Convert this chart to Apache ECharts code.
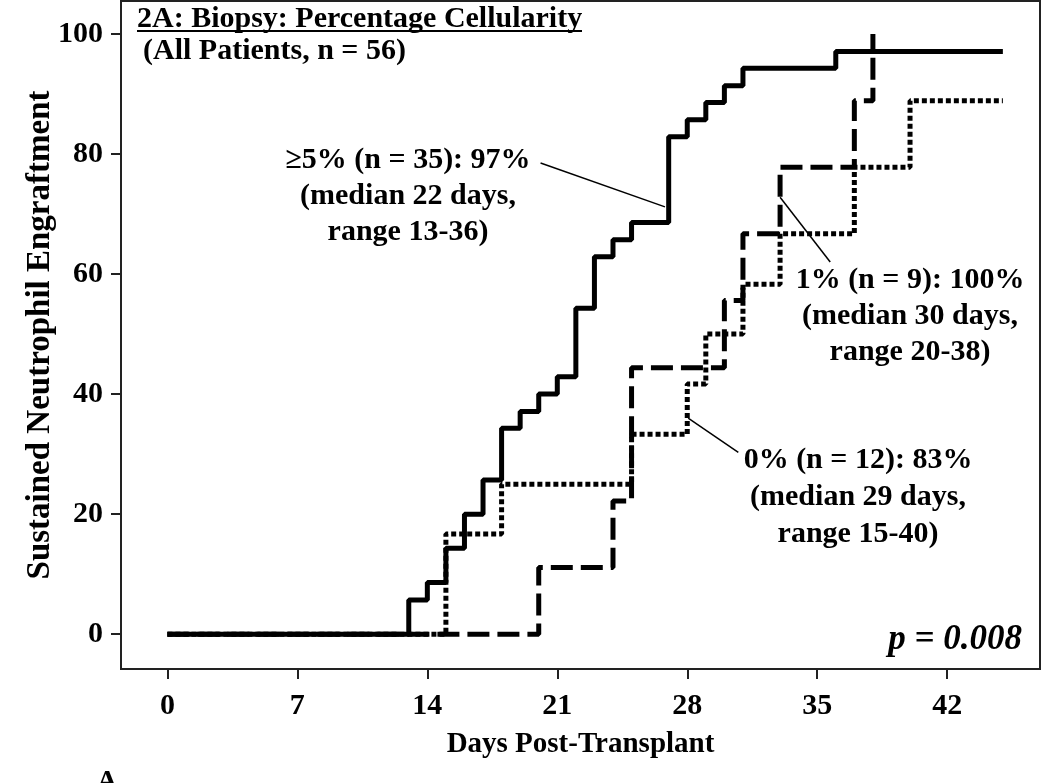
<!DOCTYPE html>
<html>
<head>
<meta charset="utf-8">
<script src="https://cdn.jsdelivr.net/npm/echarts@6/dist/echarts.min.js"></script>
<style>
  html, body { margin: 0; padding: 0; background: #fff; }
  #chart { width: 1050px; height: 783px; }
</style>
</head>
<body>
<div id="chart"></div>
<script>
// tick values
var xTicks = [0, 7, 14, 21, 28, 35, 42];
var yTicks = [0, 20, 40, 60, 80, 100];

// >=5% cellularity (n = 35)
var solidDays = [0, 13, 14, 15, 16, 17, 18, 19, 20, 21, 22, 23, 24, 25, 27, 28, 29, 30, 31, 36, 45];
var solidPct  = [0, 5.7, 8.6, 14.3, 20, 25.7, 34.3, 37.1, 40, 42.9, 54.3, 62.9, 65.7, 68.6, 82.9, 85.7, 88.6, 91.4, 94.3, 97.1, 97.1];

// 1% cellularity (n = 9)
var dashDays = [0, 20, 24, 25, 30, 31, 33, 37, 38];
var dashPct  = [0, 11.1, 22.2, 44.4, 55.6, 66.7, 77.8, 88.9, 100];

// 0% cellularity (n = 12)
var dotDays = [0, 15, 18, 25, 28, 29, 31, 33, 37, 40, 45];
var dotPct  = [0, 16.7, 25, 33.3, 41.7, 50, 58.3, 66.7, 77.8, 88.9, 88.9];

// leader lines: [curve point, label end]
var leader5 = [[26.8, 71.2], [20.1, 78.5]];
var leader1 = [[33.0, 72.8], [35.7, 62]];
var leader0 = [[28.05, 36], [30.75, 30.3]];

var font = "'Liberation Serif', 'Times New Roman', serif";

function pairs(xs, ys) {
    return xs.map(function (x, i) { return [x, ys[i]]; });
}
function leader(p) {
    return [{ coord: p[0] }, { coord: p[1] }];
}

var myChart = echarts.init(document.getElementById('chart'));

var textStyle = { fontFamily: font, fontWeight: 'bold', fontSize: 30, fill: '#000' };

var option = {
    backgroundColor: '#fff',
    animation: false,
    grid: {
        left: 121,
        right: 10,
        top: 1,
        bottom: 114,
        show: true,
        borderColor: '#222',
        borderWidth: 2,
        containLabel: false,
        outerBoundsMode: 'none'
    },
    xAxis: {
        type: 'value',
        min: -2.5,
        max: 47,
        name: 'Days Post-Transplant',
        nameLocation: 'middle',
        nameGap: 61,
        nameMoveOverlap: false,
        nameTextStyle: { fontFamily: font, fontWeight: 'bold', fontSize: 29, color: '#000' },
        axisLine: { show: true, onZero: false, lineStyle: { color: '#222', width: 2 } },
        axisTick: { show: true, length: 10, customValues: xTicks, lineStyle: { color: '#222', width: 2 } },
        axisLabel: { customValues: xTicks, margin: 22, fontFamily: font, fontWeight: 'bold', fontSize: 30, color: '#000' },
        splitLine: { show: false }
    },
    yAxis: {
        type: 'value',
        min: -5.8,
        max: 105.5,
        name: 'Sustained Neutrophil Engraftment',
        nameLocation: 'middle',
        nameGap: 64,
        nameMoveOverlap: false,
        nameTextStyle: { fontFamily: font, fontWeight: 'bold', fontSize: 33, color: '#000' },
        axisLine: { show: true, onZero: false, lineStyle: { color: '#222', width: 2 } },
        axisTick: { show: true, length: 10, customValues: yTicks, lineStyle: { color: '#222', width: 2 } },
        axisLabel: { customValues: yTicks, margin: 18, fontFamily: font, fontWeight: 'bold', fontSize: 30, color: '#000' },
        splitLine: { show: false }
    },
    series: [
        {
            name: '0%',
            type: 'line',
            step: 'end',
            showSymbol: false,
            lineStyle: { color: '#000', width: 5, type: [5, 3], cap: 'butt' },
            data: pairs(dotDays, dotPct),
            markLine: {
                silent: true, symbol: 'none', label: { show: false },
                lineStyle: { color: '#000', width: 1.5, type: 'solid' },
                data: [leader(leader0)]
            }
        },
        {
            name: '1%',
            type: 'line',
            step: 'end',
            showSymbol: false,
            lineStyle: { color: '#000', width: 5, type: [22, 8], cap: 'butt' },
            data: pairs(dashDays, dashPct),
            markLine: {
                silent: true, symbol: 'none', label: { show: false },
                lineStyle: { color: '#000', width: 1.5, type: 'solid' },
                data: [leader(leader1)]
            }
        },
        {
            name: '>=5%',
            type: 'line',
            step: 'end',
            showSymbol: false,
            lineStyle: { color: '#000', width: 5 },
            data: pairs(solidDays, solidPct),
            markLine: {
                silent: true, symbol: 'none', label: { show: false },
                lineStyle: { color: '#000', width: 1.5, type: 'solid' },
                data: [leader(leader5)]
            }
        }
    ],
    graphic: [
        { type: 'text', left: 137, top: 4, style: Object.assign({ text: '2A: Biopsy: Percentage Cellularity' }, textStyle) },
        { type: 'line', shape: { x1: 137, y1: 31, x2: 582, y2: 31 }, style: { stroke: '#000', lineWidth: 2 } },
        { type: 'text', left: 143, top: 36, style: Object.assign({ text: '(All Patients, n = 56)' }, textStyle) },
        { type: 'text', x: 408, y: 196, style: Object.assign({ text: '\u22655% (n = 35): 97%\n(median 22 days,\nrange 13-36)', align: 'center', verticalAlign: 'middle', lineHeight: 36 }, textStyle) },
        { type: 'text', x: 910, y: 316, style: Object.assign({ text: '1% (n = 9): 100%\n(median 30 days,\nrange 20-38)', align: 'center', verticalAlign: 'middle', lineHeight: 36 }, textStyle) },
        { type: 'text', x: 858, y: 497, style: Object.assign({ text: '0% (n = 12): 83%\n(median 29 days,\nrange 15-40)', align: 'center', verticalAlign: 'middle', lineHeight: 37 }, textStyle) },
        { type: 'text', x: 1022, y: 640, style: { text: 'p = 0.008', align: 'right', verticalAlign: 'middle', fontFamily: font, fontWeight: 'bold', fontStyle: 'italic', fontSize: 35, fill: '#000' } },
        { type: 'text', x: 97, y: 768, style: { text: 'A', align: 'left', verticalAlign: 'top', fontFamily: font, fontWeight: 'bold', fontSize: 28, fill: '#000' } }
    ]
};

myChart.setOption(option);
window.addEventListener('resize', function () {
    myChart.resize();
});
</script>
</body>
</html>
